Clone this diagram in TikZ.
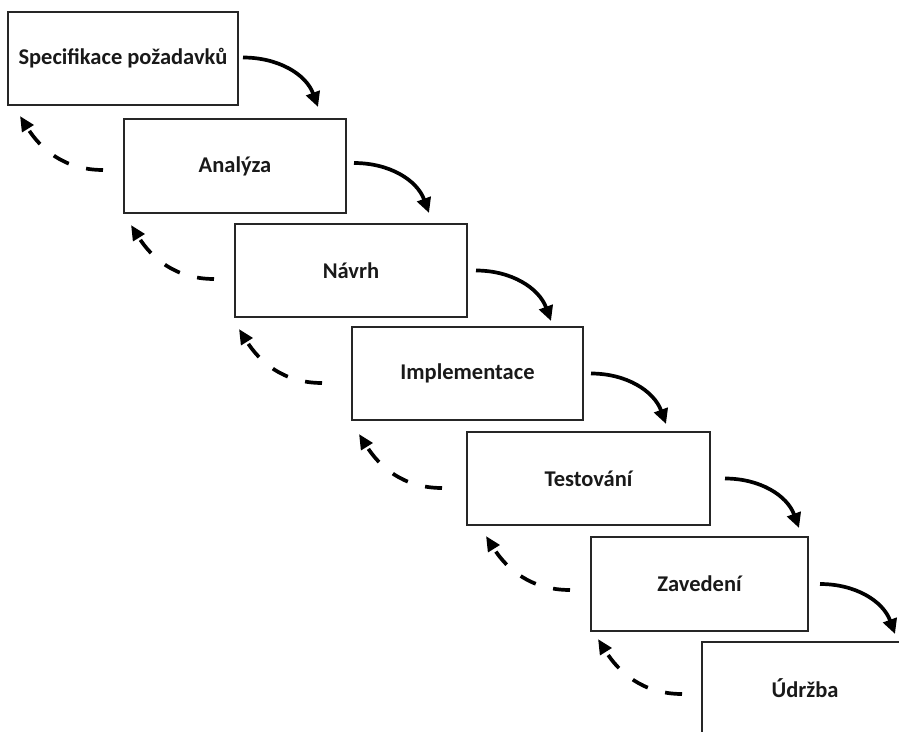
\documentclass[tikz,border=0pt]{standalone}
\usepackage{fontspec}
\setmainfont{Carlito}
\usetikzlibrary{arrows.meta}
\begin{document}
\begin{tikzpicture}[x=1pt,y=1pt,
  stage/.style={draw=black!85, line width=2pt, inner sep=0pt, font=\bfseries\fontsize{22.5}{26}\selectfont, text=black!90},
  fwd/.style={line width=3.7pt, -{Triangle[length=15pt,width=14pt]}},
  back/.style={line width=3.7pt, dash pattern=on 17pt off 18pt, -{Triangle[length=15pt,width=13pt]}}]
\useasboundingbox (0,0) rectangle (899,-731);
\clip (0,0) rectangle (899,-731);
\node[stage, minimum width=230, minimum height=93] (b1) at (123,-58.5) {Specifikace požadavků};
\node[stage, minimum width=222, minimum height=94] (b2) at (235,-166) {Analýza};
\node[stage, minimum width=232, minimum height=93] (b3) at (351,-270.5) {Návrh};
\node[stage, minimum width=231, minimum height=93] (b4) at (467.5,-373.5) {Implementace};
\node[stage, minimum width=243, minimum height=93] (b5) at (588.5,-478.5) {Testování};
\node[stage, minimum width=217, minimum height=94] (b6) at (699.5,-584) {Zavedení};
\node[stage, minimum width=206, minimum height=92] (b7) at (805,-688) {Údržba};
% forward arrows
\draw[fwd] ([shift={(4,1)}]b1.east) to[out=0,in=110] ([shift={(-29,11)}]b2.north east);
\draw[fwd] ([shift={(7,3)}]b2.east) to[out=0,in=110] ([shift={(-39,10)}]b3.north east);
\draw[fwd] ([shift={(8,0)}]b3.east) to[out=0,in=110] ([shift={(-33,5)}]b4.north east);
\draw[fwd] ([shift={(7,0)}]b4.east) to[out=0,in=110] ([shift={(-45,7)}]b5.north east);
\draw[fwd] ([shift={(14,0)}]b5.east) to[out=0,in=110] ([shift={(-10,8)}]b6.north east);
\draw[fwd] ([shift={(11,0)}]b6.east) to[out=0,in=110] ([shift={(-14,7)}]b7.north east);
% backward dashed arrows
\draw[back] ([shift={(-20,-4)}]b2.west) to[out=180,in=-58] ([shift={(13,-10)}]b1.south west);
\draw[back] ([shift={(-20,-8.5)}]b3.west) to[out=180,in=-58] ([shift={(8,-11)}]b2.south west);
\draw[back] ([shift={(-29,-9.5)}]b4.west) to[out=180,in=-58] ([shift={(5,-11)}]b3.south west);
\draw[back] ([shift={(-24,-9.5)}]b5.west) to[out=180,in=-58] ([shift={(8,-13)}]b4.south west);
\draw[back] ([shift={(-20,-6)}]b6.west) to[out=180,in=-58] ([shift={(20,-10)}]b5.south west);
\draw[back] ([shift={(-19,-6)}]b7.west) to[out=180,in=-58] ([shift={(8,-7)}]b6.south west);
\end{tikzpicture}
\end{document}
